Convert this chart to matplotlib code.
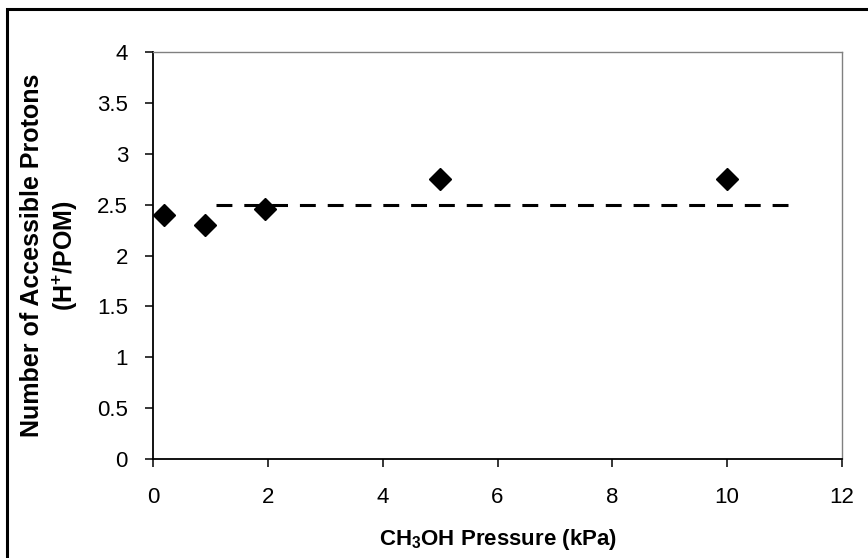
import matplotlib
matplotlib.use("Agg")
import matplotlib.pyplot as plt
from matplotlib.patches import Rectangle

plt.rcParams['font.family'] = ['Liberation Sans', 'DejaVu Sans']
plt.rcParams['mathtext.fontset'] = 'custom'
plt.rcParams['mathtext.rm'] = 'Liberation Sans'
plt.rcParams['mathtext.bf'] = 'Liberation Sans:bold'

# measured points
pressure = [0.2, 0.9, 1.95, 5.0, 10.0]
protons = [2.4, 2.3, 2.46, 2.75, 2.75]

# average level (dashed)
avg_x = [1.1, 11.1]
avg_y = [2.5, 2.5]

x_ticks = [0, 2, 4, 6, 8, 10, 12]
y_ticks = [0, 0.5, 1, 1.5, 2, 2.5, 3, 3.5, 4]
y_ticklabels = ['0', '0.5', '1', '1.5', '2', '2.5', '3', '3.5', '4']

fig = plt.figure(figsize=(8.68, 5.58), dpi=100)
ax = fig.add_axes([153/868, 1 - 459/558, (842 - 153)/868, (459 - 52)/558])

ax.plot(avg_x, avg_y, color='black', lw=2.2, dashes=(5.2, 3.9), dash_capstyle='butt')
ax.plot(pressure, protons, linestyle='none', marker='D', ms=11, color='black')

ax.set_xlim(0, 12)
ax.set_ylim(0, 4)
ax.set_xticks(x_ticks)
ax.set_yticks(y_ticks)
ax.set_yticklabels(y_ticklabels)
ax.tick_params(axis='both', direction='out', length=6, width=1.1, labelsize=16)
ax.tick_params(axis='y', pad=12)
ax.tick_params(axis='x', pad=14)

for side in ['left', 'bottom']:
    ax.spines[side].set_color('black')
    ax.spines[side].set_linewidth(1.3)
for side in ['top', 'right']:
    ax.spines[side].set_color('#808080')
    ax.spines[side].set_linewidth(1.0)

ax.set_xlabel(r'CH$_{\mathbf{3}}$OH Pressure (kPa)', fontsize=16, fontweight='bold', labelpad=14)
ax.set_ylabel('Number of Accessible Protons\n' + r'(H$^{\mathbf{+}}$/POM)',
              fontsize=18, fontweight='bold', labelpad=12, linespacing=1.3)

# frame round the whole chart
fig.patches.append(Rectangle((7/868, -0.05), 1.1, 1 - 9/558 + 0.05, transform=fig.transFigure,
                             fill=False, edgecolor='black', lw=2.2, clip_on=False))

fig.savefig('out.png', dpi=100)
